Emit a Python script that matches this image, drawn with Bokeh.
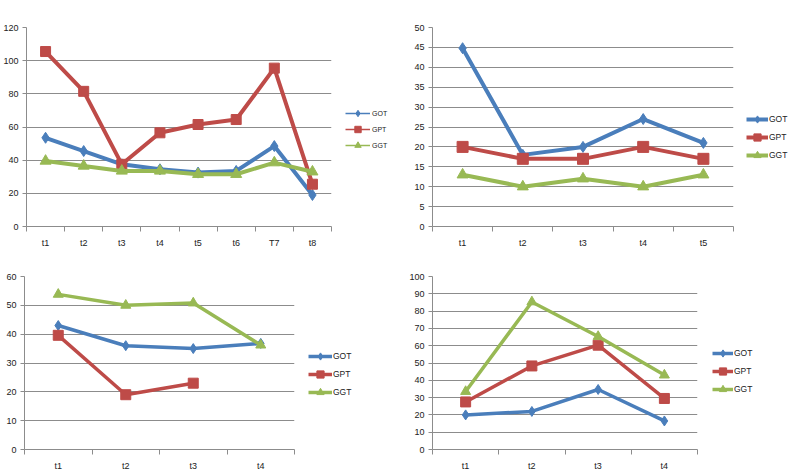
import math
from bokeh.plotting import figure
from bokeh.layouts import column, row
from bokeh.models import Range1d, FixedTicker, Legend, LegendItem
from bokeh.embed import file_html
from bokeh.resources import INLINE

nan = float("nan")

# ---- data ----
cats1 = ["t1", "t2", "t3", "t4", "t5", "t6", "T7", "t8"]
got1 = [53.5, 45.5, 37.5, 34.5, 32.5, 33.5, 48.5, 19]
gpt1 = [105.5, 81.5, 37.5, 56.5, 61.5, 64.5, 95.5, 25.5]
ggt1 = [39.5, 36.5, 33.5, 33.5, 31.5, 31.5, 38.5, 33]
yticks1 = [0, 20, 40, 60, 80, 100, 120]

cats2 = ["t1", "t2", "t3", "t4", "t5"]
got2 = [44.8, 18, 20, 27, 21]
gpt2 = [20, 17, 17, 20, 17]
ggt2 = [13, 10, 12, 10, 13]
yticks2 = [0, 5, 10, 15, 20, 25, 30, 35, 40, 45, 50]

cats3 = ["t1", "t2", "t3", "t4"]
got3 = [43, 36, 35, 36.8]
gpt3 = [39.6, 19, 23, nan]
ggt3 = [53.8, 50, 50.8, 36.2]
yticks3 = [0, 10, 20, 30, 40, 50, 60]

cats4 = ["t1", "t2", "t3", "t4"]
got4 = [20, 22, 34.7, 16.5]
gpt4 = [27.5, 48.3, 60.3, 29.5]
ggt4 = [33.5, 85.3, 65.3, 43]
yticks4 = [0, 10, 20, 30, 40, 50, 60, 70, 80, 90, 100]

names = ["GOT", "GPT", "GGT"]
colors = ["#4A7EBB", "#BE4B48", "#98B954"]
markers = ["diamond", "square", "triangle"]
FONT = "Liberation Sans"


def make(cats, series, yticks, w, h, bl, br, bt, bb, lw, msizes):
    n = len(cats)
    xs = list(range(1, n + 1))
    p = figure(width=w, height=h, output_backend="svg", toolbar_location=None,
               x_range=Range1d(0.5, n + 0.5),
               y_range=Range1d(yticks[0], yticks[-1]),
               min_border_left=bl, min_border_right=br,
               min_border_top=bt, min_border_bottom=bb)
    p.outline_line_color = None
    p.background_fill_color = "white"
    p.border_fill_color = "white"
    p.xgrid.visible = False
    p.ygrid.grid_line_color = "#8C8C8C"
    p.ygrid.grid_line_width = 1

    p.xaxis.ticker = FixedTicker(ticks=xs, minor_ticks=[i + 0.5 for i in range(0, n + 1)])
    p.xaxis.major_label_overrides = {x: c for x, c in zip(xs, cats)}
    p.xaxis.major_tick_line_color = None
    p.xaxis.major_tick_out = 0
    p.xaxis.major_tick_in = 0
    p.xaxis.minor_tick_out = 5
    p.xaxis.minor_tick_in = 0
    p.xaxis.minor_tick_line_color = "#8C8C8C"
    p.xaxis.axis_line_color = "#8C8C8C"
    p.xaxis.major_label_standoff = 6

    p.yaxis.ticker = FixedTicker(ticks=yticks)
    p.yaxis.major_tick_out = 4
    p.yaxis.major_tick_in = 0
    p.yaxis.minor_tick_line_color = None
    p.yaxis.major_tick_line_color = "#8C8C8C"
    p.yaxis.axis_line_color = "#8C8C8C"
    p.yaxis.major_label_standoff = 4

    for ax in (p.xaxis, p.yaxis):
        ax.major_label_text_font = FONT
        ax.major_label_text_font_size = "9px"
        ax.major_label_text_color = "#222222"

    for (name, vals), col, mk, ms in zip(series, colors, markers, msizes):
        p.line(xs, vals, line_color=col, line_width=lw, line_join="round")
        p.scatter(xs, vals, marker=mk, size=ms, fill_color=col,
                  line_color=col, line_width=1)
    return p


def make_legend(w, h, loc, gw, gh, font, standoff, lw):
    q = figure(width=w, height=h, output_backend="svg", toolbar_location=None,
               x_axis_type=None, y_axis_type=None,
               x_range=Range1d(0, 1), y_range=Range1d(0, 1),
               min_border_left=0, min_border_right=0,
               min_border_top=0, min_border_bottom=0)
    q.outline_line_color = None
    q.xgrid.visible = False
    q.ygrid.visible = False
    q.background_fill_color = "white"
    q.border_fill_color = "white"
    items = []
    for name, col, mk in zip(names, colors, markers):
        # legend proxies: one undrawn (NaN) point each
        lr = q.line([nan], [nan], line_color=col, line_width=lw)
        sr = q.scatter([nan], [nan], marker=mk, fill_color=col, line_color=col)
        items.append(LegendItem(label=name, renderers=[lr, sr]))
    leg = Legend(items=items, location=loc, orientation="vertical",
                 glyph_width=gw, glyph_height=gh, label_height=gh,
                 spacing=0, padding=0, margin=0, label_standoff=standoff,
                 border_line_color=None, background_fill_alpha=0,
                 label_text_font=FONT, label_text_font_size=font,
                 label_text_color="#222222")
    q.add_layout(leg)
    return q


p1 = make(cats1, list(zip(names, [got1, gpt1, ggt1])), yticks1,
          335, 250, 24, 4, 7, 19, 4, [11, 10, 11])
l1 = make_legend(65, 250, (10, 73), 25, 16, "7px", 2, 1.5)
p2 = make(cats2, list(zip(names, [got2, gpt2, ggt2])), yticks2,
          334, 250, 32, 1, 27, 21, 4, [11, 11, 11])
l2 = make_legend(55, 250, (12, 62), 22, 18, "8.5px", 1, 4)
p3 = make(cats3, list(zip(names, [got3, gpt3, ggt3])), yticks3,
          298, 223, 24, 4, 26, 17, 3.5, [10, 10, 10])
l3 = make_legend(102, 223, (10, 48), 24, 18, "8.5px", 1, 3.5)
p4 = make(cats4, list(zip(names, [got4, gpt4, ggt4])), yticks4,
          301, 223, 32, 4, 23, 20, 3.5, [10, 10, 10])
l4 = make_legend(88, 223, (11, 51), 21, 18, "8.5px", 1, 3.5)

layout = column(row(p1, l1, p2, l2), row(p3, l3, p4, l4))

html = file_html(layout, INLINE)
html = html.replace("<head>", "<head><style>html,body{margin:0;padding:0;}</style>", 1)
open("out.html", "w").write(html)
